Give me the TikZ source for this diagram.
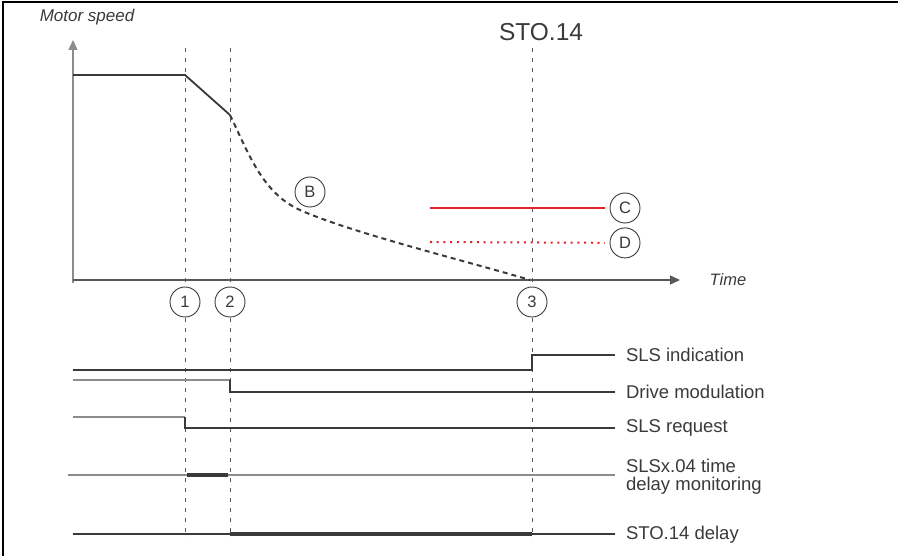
\documentclass[tikz,border=0pt]{standalone}
\usepackage{fontspec}
\setmainfont{Liberation Sans}
\usepackage{xcolor}
\usetikzlibrary{arrows.meta,positioning}
\definecolor{slsink}{HTML}{3A3A3A}
\definecolor{slsgrey}{HTML}{8C8C8C}
\definecolor{slsred}{HTML}{E3222B}

\begin{document}
\begin{tikzpicture}[x=1pt, y=-1pt,
  marker/.style={circle, draw=slsink, fill=white, minimum size=30pt, inner sep=0pt, line width=0.9pt, text=slsink, font=\fontsize{16.5}{16}\selectfont},
  siglabel/.style={anchor=west, inner sep=2pt, outer sep=9pt, align=left, text=slsink, font=\fontsize{18.5}{18}\selectfont},
  signal/.style={draw=slsink, line width=1.2pt},
  busy/.style={draw=slsink, line width=4.2pt},
  guide/.style={draw=slsink!85, dash pattern=on 4pt off 6pt, line width=0.9pt},
  axis/.style={-{Triangle[length=10pt, width=9pt]}, line width=1.3pt, draw=slsink!85, fill=slsink},
  speed/.style={draw=slsink, line width=1.8pt},
  limit/.style={draw=slsred, line width=2pt}
]
\useasboundingbox (0,0) rectangle (898,556);
\draw[line width=1.3pt] (3,556) -- (3,2) -- (898,2);

% axes
\coordinate (O) at (73,280);
\coordinate (ytip) at (73,40);
\coordinate (xtip) at (680,280);
\draw[axis, draw=slsgrey] (73,283) -- (ytip);
\draw[axis] (O) -- (xtip);
\node[text=slsink, font=\fontsize{17}{17}\selectfont\itshape] (yname) at (87,17) {Motor speed};
\node[text=slsink, font=\fontsize{16.5}{16}\selectfont\itshape] (xname) at (728,280) {Time};
\node[text=slsink, font=\fontsize{24.5}{24}\selectfont] (sto) at (541,32) {STO.14};

% event lines and markers
\foreach \n/\x in {1/185,2/230,3/532} {
  \coordinate (top\n) at (\x,48);
  \coordinate (bot\n) at (\x,538);
  \draw[guide] (top\n) -- (bot\n);
}

% speed profile
\coordinate (s0) at (73,75);
\coordinate (s1) at (185,75);
\coordinate (s2) at (230,115);
\coordinate (s3) at (300,210);
\coordinate (s4) at (530,280);
\draw[speed] (s0) -- (s1) -- (s2);
\draw[speed, line width=2pt, dash pattern=on 5pt off 4pt] (s2) .. controls (248,152) and (262,193) .. (s3)
  .. controls (350,232.5) and (470,262) .. (s4);

\foreach \n/\x in {1/185,2/230,3/532}
  \node[marker] (m\n) at (\x,302) {\n};
\node[marker] (mB) at (310,192) {B};
\node[marker] (mC) at (625,208) {C};
\node[marker, below=4pt of mC] (mD) {D};

% speed limits
\coordinate (c0) at (430,208);
\coordinate (d0) at (430,242);
\draw[limit, shorten >=5pt] (c0) -- (mC);
\draw[limit, dash pattern=on 2pt off 4.7pt, shorten >=5pt] (d0) -- (mD);

% signals
\node[siglabel] (lab1) at (615,355) {SLS indication};
\node[siglabel] (lab2) at (615,392) {Drive modulation};
\node[siglabel] (lab3) at (615,428) {SLS request};
\node[siglabel] (lab4) at (615,477) {SLSx.04 time\\delay monitoring};
\node[siglabel] (lab5) at (615,535) {STO.14 delay};

\draw[signal] (73,370) -| (532,355) -- (lab1);
\draw[signal, draw=slsgrey] (73,380) -- (230,380);
\draw[signal] (230,380) |- (lab2);
\draw[signal, draw=slsgrey] (73,417) -- (185,417);
\draw[signal] (185,417) |- (lab3);
\coordinate (l4) at (68,475);
\draw[signal, draw=slsgrey] (l4) -- (lab4.west |- l4);
\draw[busy] (187,475) -- (228,475);
\coordinate (l5) at (73,534);
\draw[signal] (l5) -- (lab5.west |- l5);
\draw[busy] (230,534) -- (532,534);
\end{tikzpicture}
\end{document}
